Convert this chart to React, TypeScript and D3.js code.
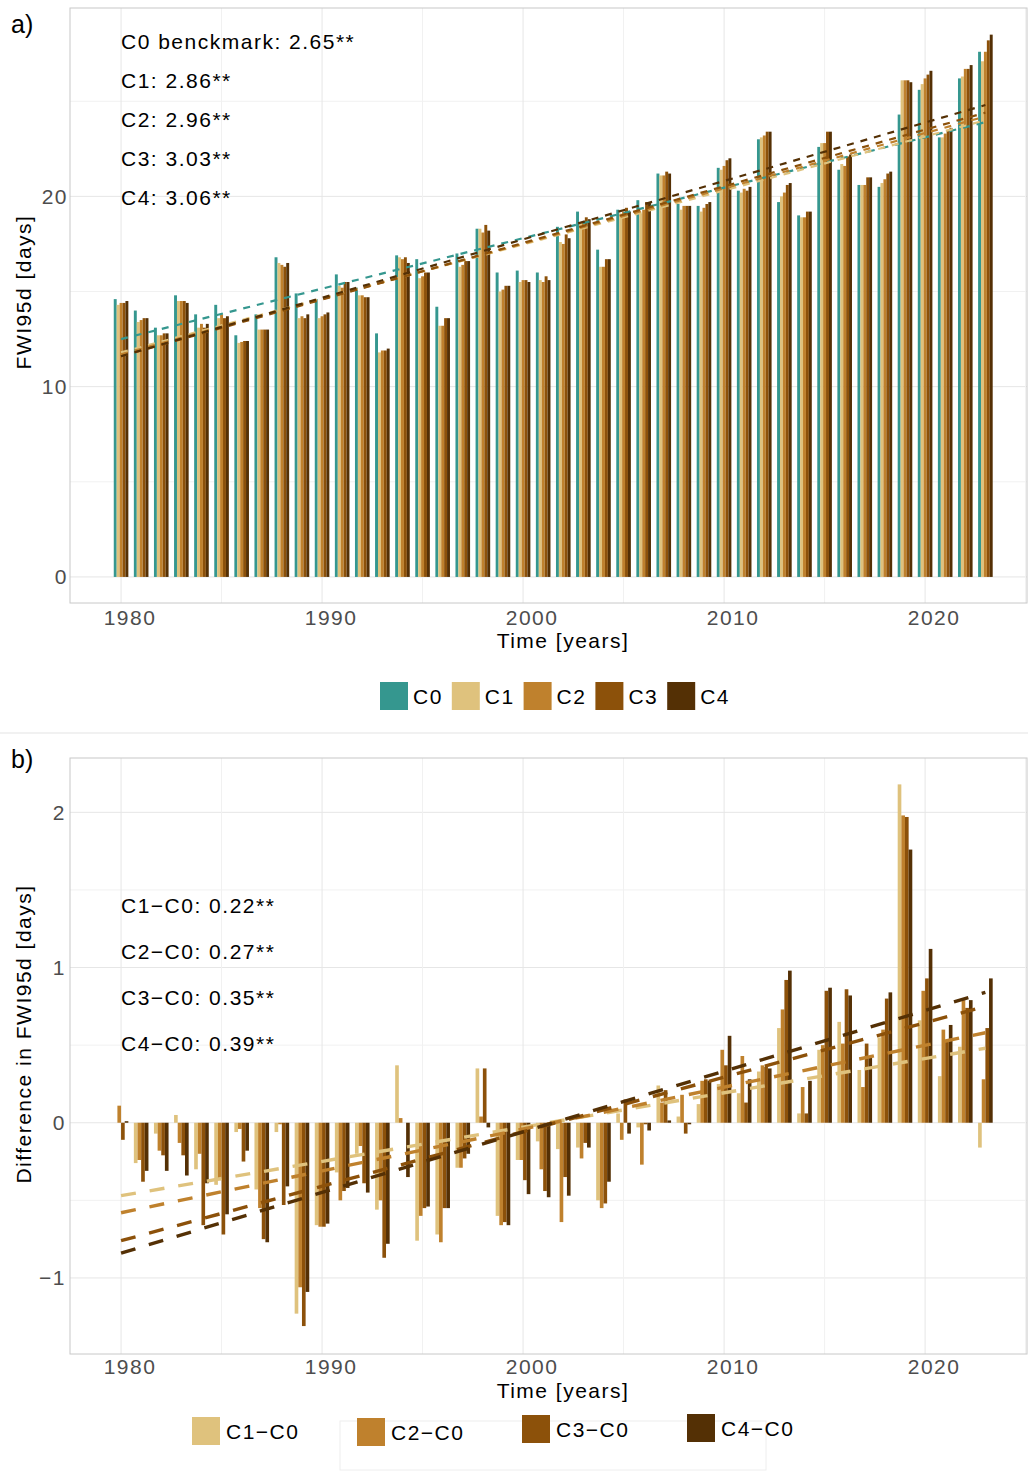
import React from 'react';
import * as d3 from 'd3';

// years on the x axis
const years = [
  1980, 1981, 1982, 1983, 1984, 1985, 1986, 1987, 1988, 1989,
  1990, 1991, 1992, 1993, 1994, 1995, 1996, 1997, 1998, 1999,
  2000, 2001, 2002, 2003, 2004, 2005, 2006, 2007, 2008, 2009,
  2010, 2011, 2012, 2013, 2014, 2015, 2016, 2017, 2018, 2019,
  2020, 2021, 2022, 2023
];

// panel a) FWI95d per configuration
const c0 = [14.6, 14.0, 13.1, 14.8, 13.8, 14.3, 12.7, 13.8, 16.8, 14.9, 14.6, 15.9, 15.2, 12.8, 16.9, 16.7, 14.2, 17.0, 18.3, 16.0, 16.1, 16.0, 18.4, 19.2, 17.2, 19.3, 19.8, 21.2, 19.6, 19.5, 21.5, 20.3, 23.0, 19.7, 19.0, 22.6, 21.4, 20.6, 20.5, 24.3, 25.6, 23.1, 26.2, 27.6];
const c1 = [14.3, 13.4, 12.7, 14.5, 13.1, 13.6, 12.3, 13.0, 16.5, 13.6, 13.6, 15.3, 14.8, 11.8, 16.8, 15.7, 13.2, 16.3, 18.3, 15.0, 15.5, 15.6, 17.6, 18.6, 16.3, 19.1, 19.1, 21.1, 19.3, 19.2, 21.4, 20.2, 23.1, 20.0, 18.9, 22.8, 21.7, 20.6, 20.7, 26.1, 25.9, 23.1, 26.3, 27.1];
const c2 = [14.4, 13.5, 12.7, 14.5, 13.3, 13.8, 12.35, 13.0, 16.4, 13.7, 13.7, 15.2, 14.8, 11.9, 16.7, 15.8, 13.2, 16.4, 18.1, 15.1, 15.6, 15.5, 17.5, 18.7, 16.3, 19.2, 19.3, 21.1, 19.5, 19.4, 21.6, 20.4, 23.2, 20.2, 18.9, 22.8, 21.6, 20.6, 20.9, 26.1, 26.2, 23.3, 26.7, 27.6];
const c3 = [14.4, 13.6, 12.8, 14.5, 13.1, 13.6, 12.4, 13.0, 16.3, 13.6, 13.8, 15.5, 14.7, 11.9, 16.8, 16.0, 13.6, 16.6, 18.5, 15.3, 15.6, 15.8, 18.0, 18.9, 16.7, 19.4, 19.7, 21.3, 19.5, 19.6, 21.9, 20.3, 23.4, 20.6, 19.2, 23.4, 22.1, 21.0, 21.2, 26.1, 26.4, 23.5, 26.7, 28.2];
const c4 = [14.5, 13.6, 12.8, 14.4, 13.3, 13.7, 12.4, 13.0, 16.5, 13.8, 13.9, 15.5, 14.7, 12.0, 16.5, 16.0, 13.6, 16.6, 18.2, 15.3, 15.5, 15.6, 17.8, 18.8, 16.7, 19.2, 19.7, 21.2, 19.5, 19.7, 22.0, 20.5, 23.4, 20.7, 19.2, 23.4, 22.2, 21.0, 21.3, 26.0, 26.6, 23.6, 26.9, 28.5];

// panel b) differences to C0
const d1 = [0.0, -0.26, -0.07, 0.05, -0.30, -0.40, -0.06, -0.43, -0.06, -1.23, -0.66, -0.32, -0.20, -0.56, 0.37, -0.76, -0.72, -0.29, 0.35, -0.60, -0.24, -0.12, -0.17, -0.16, -0.50, 0.06, -0.03, 0.24, 0.04, 0.12, 0.25, 0.19, 0.33, 0.61, 0.06, 0.47, 0.65, 0.34, 0.55, 2.18, 0.66, 0.30, 0.49, -0.16];
const d2 = [0.11, -0.24, -0.18, -0.13, -0.20, -0.37, -0.04, -0.55, -0.01, -1.06, -0.67, -0.50, -0.15, -0.50, 0.03, -0.60, -0.77, -0.29, 0.04, -0.66, -0.24, -0.30, -0.64, -0.23, -0.55, -0.11, -0.27, 0.13, 0.18, 0.27, 0.47, 0.43, 0.37, 0.73, 0.23, 0.50, 0.51, 0.23, 0.60, 1.98, 0.85, 0.60, 0.79, 0.28];
const d3v = [-0.11, -0.38, -0.21, -0.21, -0.66, -0.72, -0.25, -0.75, -0.53, -1.31, -0.67, -0.44, -0.39, -0.87, 0.0, -0.55, -0.55, -0.23, 0.35, -0.64, -0.37, -0.44, -0.35, -0.13, -0.52, 0.15, -0.01, 0.21, -0.07, 0.28, 0.37, 0.13, 0.36, 0.92, 0.06, 0.85, 0.86, 0.51, 0.80, 1.97, 0.93, 0.52, 0.74, 0.61];
const d4 = [0.01, -0.31, -0.31, -0.34, -0.39, -0.59, -0.18, -0.77, -0.41, -1.09, -0.65, -0.42, -0.45, -0.78, -0.35, -0.54, -0.55, -0.20, -0.03, -0.66, -0.46, -0.48, -0.47, -0.16, -0.38, -0.07, -0.05, 0.015, -0.01, 0.27, 0.56, 0.28, 0.35, 0.98, 0.27, 0.87, 0.82, 0.42, 0.84, 1.76, 1.12, 0.63, 0.79, 0.93];

const seriesA = ['C0', 'C1', 'C2', 'C3', 'C4'];
const seriesB = ['C1\u2212C0', 'C2\u2212C0', 'C3\u2212C0', 'C4\u2212C0'];
const colorsA = ['#35978f', '#dfc27d', '#bf812d', '#8c510a', '#543005'];
const colorsB = ['#dfc27d', '#bf812d', '#8c510a', '#543005'];

// linear trends, value at first and last year
const trendYears = [1980, 2023];
const trendA = [[12.5, 23.9], [11.8, 24.0], [11.7, 24.2], [11.6, 24.4], [11.6, 24.8]];
const trendB = [[-0.47, 0.48], [-0.58, 0.58], [-0.76, 0.75], [-0.84, 0.84]];

const labelsA = ['C0 benckmark: 2.65**', 'C1: 2.86**', 'C2: 2.96**', 'C3: 3.03**', 'C4: 3.06**'];
const labelsB = ['C1\u2212C0: 0.22**', 'C2\u2212C0: 0.27**', 'C3\u2212C0: 0.35**', 'C4\u2212C0: 0.39**'];

const xTicks = [1980, 1990, 2000, 2010, 2020];
const xGrid = [1980, 1985, 1990, 1995, 2000, 2005, 2010, 2015, 2020, 2025];
const yTicksA = [0, 10, 20];
const yGridA = [0, 5, 10, 15, 20, 25];
const yTicksB = [-1, 0, 1, 2];
const yGridB = [-1, -0.5, 0, 0.5, 1, 1.5, 2];

const font = '"Liberation Sans", Arial, sans-serif';

export default function App() {
  const x = d3.scaleLinear().domain([1977.46, 2025.07]).range([70, 1027]);
  const yA = d3.scaleLinear().domain([-1.37, 29.9]).range([603, 8]);
  const yB = d3.scaleLinear().domain([-1.49, 2.35]).range([1354, 758]);
  const dodgeA = d3.scaleBand().domain(seriesA).range([-7.3, 7.3]);
  const dodgeB = d3.scaleBand().domain(seriesB).range([-7.3, 7.3]);
  const dataA = [c0, c1, c2, c3, c4];
  const dataB = [d1, d2, d3v, d4];

  const lineA = d3.line<[number, number]>().x(d => x(d[0])).y(d => yA(d[1]));
  const lineB = d3.line<[number, number]>().x(d => x(d[0])).y(d => yB(d[1]));

  const txt = { fontFamily: font, fontSize: 21, letterSpacing: 1.5 };

  const grid = (y: any, ys: number[], top: number, bottom: number, major: number[]) => (
    <g>
      {ys.map(v => (
        <line key={'h' + v} x1={70} x2={1027} y1={y(v)} y2={y(v)}
          stroke={major.includes(v) ? '#e6e6e6' : '#f1f1f1'} strokeWidth={1} />
      ))}
      {xGrid.map(v => (
        <line key={'v' + v} x1={x(v)} x2={x(v)} y1={top} y2={bottom}
          stroke={v % 10 === 0 ? '#e6e6e6' : '#f1f1f1'} strokeWidth={1} />
      ))}
    </g>
  );

  return (
    <svg width={1028} height={1474} style={{ position: 'absolute', left: 0, top: 0, background: '#fff' }}>
      {/* ---------- panel a ---------- */}
      {grid(yA, yGridA, 8, 603, yTicksA)}
      {years.map((yr, i) => (
        <g key={'ga' + yr}>
          {seriesA.map((s, k) => {
            const v = dataA[k][i];
            return (
              <rect key={s} x={x(yr) + (dodgeA(s) as number)} width={dodgeA.bandwidth()}
                y={yA(v)} height={yA(0) - yA(v)} fill={colorsA[k]} />
            );
          })}
        </g>
      ))}
      {trendA.map((t, k) => (
        <path key={'ta' + k} d={lineA([[trendYears[0], t[0]], [trendYears[1], t[1]]]) || ''}
          fill="none" stroke={colorsA[k]} strokeWidth={2.2} strokeDasharray="7 7" />
      ))}
      <rect x={70} y={8} width={957} height={595} fill="none" stroke="#c8c8c8" />
      {labelsA.map((l, i) => (
        <text key={l} x={121} y={48.5 + i * 39} {...txt} fill="#000">{l}</text>
      ))}
      {yTicksA.map(v => (
        <text key={'ya' + v} x={68} y={yA(v) + 7.5} textAnchor="end" {...txt} fill="#4d4d4d">{v}</text>
      ))}
      {xTicks.map(v => (
        <text key={'xa' + v} x={x(v) + 9} y={625} textAnchor="middle" {...txt} fill="#4d4d4d">{v}</text>
      ))}
      <text x={563} y={648} textAnchor="middle" {...txt} fill="#000">Time [years]</text>
      <text transform="translate(31,292) rotate(-90)" textAnchor="middle" {...txt} fill="#000">FWI95d [days]</text>
      <text x={11} y={33} fontFamily={font} fontSize={25} fill="#000">a)</text>
      {seriesA.map((s, k) => (
        <g key={'la' + s} transform={`translate(${380 + k * 71.8},682)`}>
          <rect width={28} height={28} fill={colorsA[k]} />
          <text x={33} y={21.5} {...txt} fill="#000">{s}</text>
        </g>
      ))}

      <line x1={0} x2={1028} y1={733} y2={733} stroke="#e3e3e3" />

      {/* ---------- panel b ---------- */}
      {grid(yB, yGridB, 758, 1354, yTicksB)}
      {years.map((yr, i) => (
        <g key={'gb' + yr}>
          {seriesB.map((s, k) => {
            const v = dataB[k][i];
            return (
              <rect key={s} x={x(yr) + (dodgeB(s) as number)} width={dodgeB.bandwidth()}
                y={yB(Math.max(v, 0))} height={Math.abs(yB(0) - yB(v))} fill={colorsB[k]} />
            );
          })}
        </g>
      ))}
      {trendB.map((t, k) => (
        <path key={'tb' + k} d={lineB([[trendYears[0], t[0]], [trendYears[1], t[1]]]) || ''}
          fill="none" stroke={colorsB[k]} strokeWidth={3.4} strokeDasharray="15 14" />
      ))}
      <rect x={70} y={758} width={957} height={596} fill="none" stroke="#c8c8c8" />
      {labelsB.map((l, i) => (
        <text key={l} x={121} y={912.5 + i * 46.3} {...txt} fill="#000">{l}</text>
      ))}
      {yTicksB.map(v => (
        <text key={'yb' + v} x={66} y={yB(v) + 7.5} textAnchor="end" {...txt} fill="#4d4d4d">{v < 0 ? '\u2212' + Math.abs(v) : v}</text>
      ))}
      {xTicks.map(v => (
        <text key={'xb' + v} x={x(v) + 9} y={1374} textAnchor="middle" {...txt} fill="#4d4d4d">{v}</text>
      ))}
      <text x={563} y={1398} textAnchor="middle" {...txt} fill="#000">Time [years]</text>
      <text transform="translate(31,1034) rotate(-90)" textAnchor="middle" {...txt} fill="#000">Difference in FWI95d [days]</text>
      <text x={11} y={768} fontFamily={font} fontSize={25} fill="#000">b)</text>
      <rect x={340} y={1421} width={426} height={49} fill="none" stroke="#eeeeee" />
      {seriesB.map((s, k) => (
        <g key={'lb' + s} transform={`translate(${192 + k * 165},${[1417, 1418, 1415, 1414][k]})`}>
          <rect width={28} height={28} fill={colorsB[k]} />
          <text x={34} y={21.5} {...txt} fill="#000">{s}</text>
        </g>
      ))}
    </svg>
  );
}
